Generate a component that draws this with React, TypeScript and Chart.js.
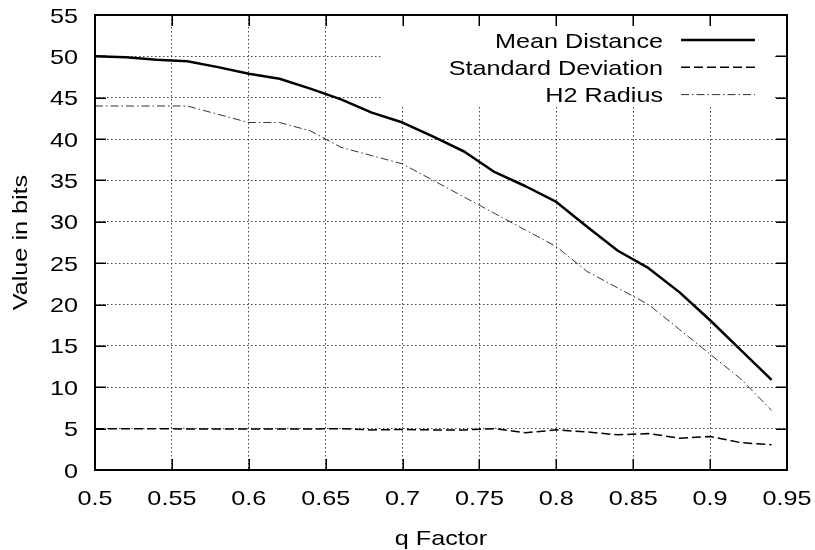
import React, { useEffect, useRef } from "react";
import { Chart, registerables } from "chart.js";

Chart.register(...registerables);

// ---- data ----
const qFactors = [0.5, 0.52, 0.54, 0.56, 0.58, 0.6, 0.62, 0.64, 0.66, 0.68, 0.7, 0.72, 0.74, 0.76, 0.78, 0.8, 0.82, 0.84, 0.86, 0.88, 0.9, 0.92, 0.94];
const meanDistance = [50.0, 49.9, 49.6, 49.4, 48.7, 47.9, 47.3, 46.1, 44.8, 43.2, 42.0, 40.3, 38.5, 36.0, 34.3, 32.4, 29.4, 26.5, 24.4, 21.5, 18.1, 14.5, 10.9];
const standardDeviation = [5.0, 5.0, 5.0, 4.95, 4.95, 4.95, 4.95, 4.95, 5.0, 4.85, 4.9, 4.85, 4.85, 5.0, 4.5, 4.85, 4.6, 4.25, 4.4, 3.85, 4.05, 3.3, 3.05];
const h2Radius = [44, 44, 44, 44, 43, 42, 42, 41, 39, 38, 37, 35, 33, 31, 29, 27, 24, 22, 20, 17, 14, 11, 7.2];
const seriesNames = ["Mean Distance", "Standard Deviation", "H2 Radius"];
const xTicks = [0.5, 0.55, 0.6, 0.65, 0.7, 0.75, 0.8, 0.85, 0.9, 0.95];
const yTicks = [0, 5, 10, 15, 20, 25, 30, 35, 40, 45, 50, 55];
const xTitle = "q Factor";
const yTitle = "Value in bits";

const FONT = '21px "Liberation Sans", Arial, sans-serif';
const STRETCH = 1.2;

function drawText(ctx: CanvasRenderingContext2D, text: string, x: number, y: number, align: CanvasTextAlign, rotate = false) {
  ctx.save();
  ctx.translate(x, y);
  if (rotate) ctx.rotate(-Math.PI / 2);
  ctx.scale(STRETCH, 1);
  ctx.font = FONT;
  ctx.fillStyle = "#000";
  ctx.textAlign = align;
  ctx.textBaseline = "alphabetic";
  ctx.fillText(text, 0, 0);
  ctx.restore();
}

const gnuplotPlugin = {
  id: "gnuplotLook",
  beforeDatasetsDraw(chart: any) {
    const ctx = chart.ctx as CanvasRenderingContext2D;
    const a = chart.chartArea;
    // key box masks the grid
    ctx.save();
    ctx.fillStyle = "#fff";
    ctx.fillRect(383, a.top, a.right - 14 - 383, 106 - a.top);
    ctx.restore();
  },
  afterDraw(chart: any) {
    const ctx = chart.ctx as CanvasRenderingContext2D;
    const a = chart.chartArea;
    const xs = chart.scales.x;
    const ys = chart.scales.y;
    const tickLen = 11;

    ctx.save();
    ctx.strokeStyle = "#000";
    ctx.lineWidth = 1.5;
    ctx.beginPath();
    xs.ticks.forEach((t: any) => {
      const px = Math.round(xs.getPixelForValue(t.value)) + 0.25;
      ctx.moveTo(px, a.bottom);
      ctx.lineTo(px, a.bottom - tickLen);
      ctx.moveTo(px, a.top);
      ctx.lineTo(px, a.top + tickLen);
    });
    ys.ticks.forEach((t: any) => {
      const py = Math.round(ys.getPixelForValue(t.value)) + 0.25;
      ctx.moveTo(a.left, py);
      ctx.lineTo(a.left + tickLen, py);
      ctx.moveTo(a.right, py);
      ctx.lineTo(a.right - tickLen, py);
    });
    ctx.stroke();

    // frame
    ctx.lineWidth = 2;
    ctx.strokeRect(a.left, a.top, a.right - a.left, a.bottom - a.top);
    ctx.restore();

    // tick labels
    xs.ticks.forEach((t: any) => {
      drawText(ctx, String(t.value), xs.getPixelForValue(t.value), a.bottom + 35, "center");
    });
    ys.ticks.forEach((t: any) => {
      drawText(ctx, String(t.value), a.left - 17, ys.getPixelForValue(t.value) + 7.5, "right");
    });

    // axis titles
    drawText(ctx, xTitle, (a.left + a.right) / 2, 544.5, "center");
    drawText(ctx, yTitle, 26.5, (a.top + a.bottom) / 2, "center", true);

    // key
    chart.data.datasets.forEach((ds: any, i: number) => {
      const y = 40 + i * 27.3;
      drawText(ctx, ds.label, 663, y + 7.5, "right");
      ctx.save();
      ctx.strokeStyle = ds.borderColor;
      ctx.lineWidth = ds.borderWidth;
      ctx.setLineDash(ds.borderDash || []);
      ctx.beginPath();
      ctx.moveTo(681, y);
      ctx.lineTo(755, y);
      ctx.stroke();
      ctx.restore();
    });
  },
};

function toPoints(values: number[]) {
  return qFactors.map((q, i) => ({ x: q, y: values[i] }));
}

export default function App() {
  const canvasRef = useRef<HTMLCanvasElement | null>(null);

  useEffect(() => {
    const canvas = canvasRef.current;
    if (!canvas) return;
    const chart = new Chart(canvas, {
      type: "line",
      data: {
        datasets: [
          {
            label: seriesNames[0],
            data: toPoints(meanDistance),
            borderColor: "#000",
            borderWidth: 2.5,
            pointRadius: 0,
            tension: 0,
            borderJoinStyle: "round",
          },
          {
            label: seriesNames[1],
            data: toPoints(standardDeviation),
            borderColor: "#000",
            borderWidth: 1.5,
            borderDash: [9, 4],
            pointRadius: 0,
            tension: 0,
          },
          {
            label: seriesNames[2],
            data: toPoints(h2Radius),
            borderColor: "#333",
            borderWidth: 1,
            borderDash: [8, 3, 1.5, 3],
            pointRadius: 0,
            tension: 0,
          },
        ],
      } as any,
      options: {
        animation: false,
        responsive: false,
        devicePixelRatio: 1,
        layout: { padding: { top: 15, right: 28, left: 0, bottom: 0 } },
        plugins: { legend: { display: false }, tooltip: { enabled: false } },
        scales: {
          x: {
            type: "linear",
            min: 0.5,
            max: 0.95,
            afterBuildTicks: (s: any) => {
              s.ticks = xTicks.map((v) => ({ value: v }));
            },
            afterFit: (s: any) => {
              s.height = 80;
            },
            ticks: { display: false },
            grid: { color: "#444", lineWidth: 1, drawTicks: false },
            border: { display: false, dash: [1.5, 2.5] },
          },
          y: {
            type: "linear",
            min: 0,
            max: 55,
            afterBuildTicks: (s: any) => {
              s.ticks = yTicks.map((v) => ({ value: v }));
            },
            afterFit: (s: any) => {
              s.width = 95;
            },
            ticks: { display: false },
            grid: { color: "#444", lineWidth: 1, drawTicks: false },
            border: { display: false, dash: [1.5, 2.5] },
          },
        },
      } as any,
      plugins: [gnuplotPlugin],
    });
    return () => chart.destroy();
  }, []);

  return (
    <div style={{ position: "absolute", left: 0, top: 0, width: 815, height: 550, background: "#fff" }}>
      <canvas ref={canvasRef} width={815} height={550} />
    </div>
  );
}
